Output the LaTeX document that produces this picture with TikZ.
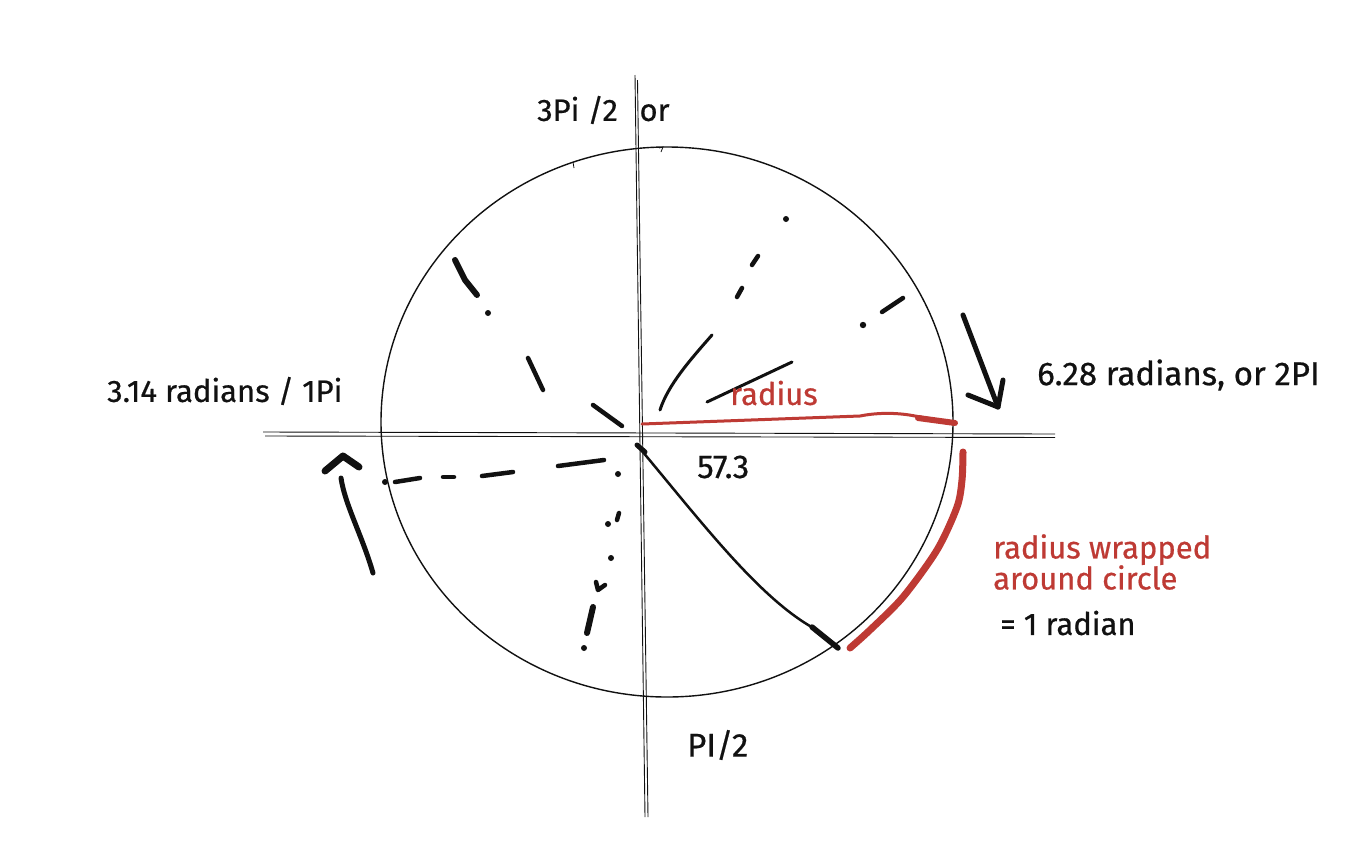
\documentclass[tikz,border=0pt]{standalone}
\usepackage{fontspec}
\setmainfont{Fira Sans}[FakeBold=0.6]
\definecolor{ink}{HTML}{111111}
\definecolor{redink}{HTML}{BE3A34}
\begin{document}
\begin{tikzpicture}[x=1pt,y=-1pt,
  circleline/.style={line width=1.4pt, draw=ink},
  axisline/.style={line width=0.9pt, draw=ink},
  stroke/.style={line width=4.5pt, line cap=round, line join=round, draw=ink},
  finestroke/.style={line width=3pt, line cap=round, line join=round, draw=ink},
  dot/.style={fill=ink, draw=none},
  redstroke/.style={draw=redink, line cap=round, line join=round},
  lbl/.style={font=\fontsize{31}{31}\selectfont, text=ink, inner sep=0pt, anchor=west},
  biglbl/.style={lbl, font=\fontsize{33}{33}\selectfont},
  redlbl/.style={lbl, text=redink},
]
\useasboundingbox[fill=white] (0,0) rectangle (1360,852);

% axes (double sketch lines)
\draw[axisline] (263,432) -- (1055,434);
\draw[axisline] (265,436) -- (1055,437.5);
\draw[axisline] (635,75) -- (645,817);
\draw[axisline] (637.5,80) -- (648,817);

% circle
\draw[circleline] (667,422) ellipse [x radius=286, y radius=275];
\draw[line width=0.8pt, draw=ink] (573,162) -- (574,168);
\draw[line width=0.8pt, draw=ink] (659,148) -- (663,147) -- (661,152);

% red radius
\draw[redstroke, line width=3pt] (642,424) -- (860,416) .. controls (880,412) and (900,413) .. (915,416) -- (955,423);
\draw[redstroke, line width=6pt] (918,418) -- (955,423);

% red arc
\draw[redstroke, line width=7pt] plot[smooth] coordinates {(963,452) (962,480) (957,507) (937,550) (903,597) (870,630) (850,648)};

% black radius to the arc end
\draw[line width=2.5pt, draw=ink, line cap=round] (637,445) .. controls (700,520) and (760,600) .. (817,630);
\draw[stroke, line width=5.5pt] (812,627) -- (838,648);
\draw[stroke, line width=5pt] (637,445) -- (645,452);

% right arrow
\draw[stroke, line width=5pt] (963,315) -- (998,407);
\draw[stroke, line width=5pt] (968,395) -- (998,407) -- (1003,380);

% left arrow
\draw[stroke, line width=5pt] (373,573) .. controls (362,535) and (345,505) .. (341,478);
\draw[stroke, line width=7pt] (325,471) -- (343,456) -- (359,467);

% lower-left dashed radius
\fill[dot] (385,482) circle (3);
\draw[stroke] (395,482) -- (420,478);
\draw[stroke] (443,477) -- (454,477);
\draw[stroke] (482,476) -- (513,472);
\draw[stroke] (558,466) -- (604,460);
\fill[dot] (618,474) circle (3);

% lower dotted radius
\draw[stroke] (619,513) -- (617,520);
\fill[dot] (608,524) circle (3);
\fill[dot] (611,558) circle (3);
\draw[stroke] (596,582) -- (598,590) -- (605,585);
\draw[stroke, line width=6pt] (593,607) -- (587,633);
\fill[dot] (584,648) circle (3);

% upper-left dashed radius
\draw[stroke, line width=6pt] (455,260) -- (465,280) -- (477,295);
\fill[dot] (488,313) circle (3);
\draw[stroke] (528,358) -- (543,390);
\draw[stroke] (593,405) -- (622,426);

% upper-right dashed radius
\draw[finestroke] (660,410) .. controls (668,385) and (690,360) .. (712,335);
\draw[stroke] (737,297) -- (742,288);
\draw[stroke] (752,265) -- (758,256);
\fill[dot] (786,219) circle (3);

% right dashed radius
\draw[finestroke] (707,402) -- (792,362);
\fill[dot] (863,325) circle (3.2);
\draw[stroke] (882,312) -- (903,298);

% labels
\node[lbl] (l3pi) at (537,110) {3Pi /2\hspace{0.7em}or};
\node[lbl] (lpi) at (107,391) {3.14 radians / 1Pi};
\node[biglbl] (l2pi) at (1037,375) {6.28 radians, or 2PI};
\node[redlbl] (lrad) at (730,393) {radius};
\node[biglbl] (l573) at (697,467) {57.3};
\node[redlbl, align=left] (lwrap) at (993,562) {radius wrapped\\around circle};
\node[lbl] (l1rad) at (1000,623) {= 1 radian};
\node[biglbl] (lpi2) at (687,745) {PI/2};
\end{tikzpicture}
\end{document}
